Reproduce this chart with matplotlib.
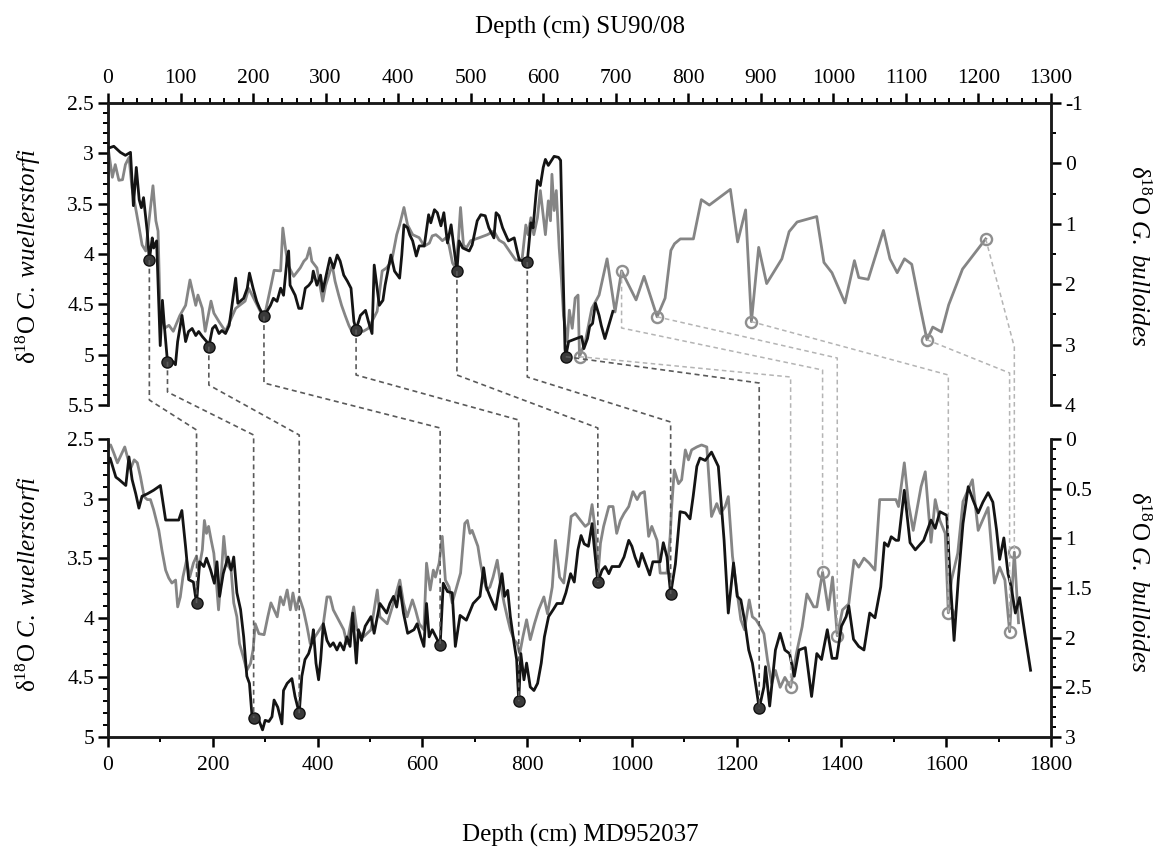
import matplotlib
matplotlib.use('Agg')
import matplotlib.pyplot as plt
from matplotlib.ticker import MultipleLocator, FuncFormatter
from matplotlib.lines import Line2D

plt.rcParams['font.family'] = ['Liberation Serif', 'DejaVu Serif']
plt.rcParams['mathtext.fontset'] = 'custom'
plt.rcParams['mathtext.rm'] = 'Liberation Serif'
plt.rcParams['mathtext.it'] = 'Liberation Serif:italic'
plt.rcParams['axes.unicode_minus'] = False

# ---------------- DATA ----------------
# SU90/08 (top panel) -- C. wuellerstorfi (black, left axis)
su_x_black = [0, 8, 17, 24, 31, 35, 39, 43, 46, 49, 54, 57, 61, 63, 67, 72, 75, 78, 82, 86,
              93, 96, 102, 107, 111, 116, 121, 125, 130, 136, 139, 144, 148, 153, 157, 162, 167, 170, 176, 179,
              187, 192, 195, 200, 205, 209, 215, 224, 228, 233, 238, 242, 247, 249, 251, 258, 263, 267, 272, 277,
              281, 283, 288, 293, 296, 302, 306, 311, 316, 320, 325, 330, 335, 339, 342, 348, 355, 359, 364, 367,
              374, 379, 382, 390, 395, 399, 402, 405, 408, 413, 416, 420, 425, 429, 436, 442, 445, 450, 454, 459,
              463, 468, 473, 481, 484, 489, 498, 502, 509, 514, 520, 525, 532, 535, 539, 544, 552, 560, 564, 567,
              578, 583, 586, 590, 592, 596, 600, 603, 607, 615, 621, 624, 627, 630, 631, 635, 642, 653, 656, 661,
              664, 668, 672, 677, 680, 685, 696]
su_cw = [2.95, 2.93, 2.99, 3.02, 2.99, 3.52, 3.14, 3.46, 3.54, 3.44, 3.77, 4.06, 3.84, 3.94, 3.87, 4.91, 4.46, 4.74, 5.07, 5.04,
         5.10, 4.87, 4.61, 4.87, 4.77, 4.74, 4.81, 4.77, 4.82, 4.87, 4.92, 4.74, 4.71, 4.79, 4.76, 4.79, 4.71, 4.56, 4.24, 4.49,
         4.44, 4.34, 4.19, 4.34, 4.47, 4.54, 4.62, 4.51, 4.44, 4.47, 4.34, 4.41, 4.04, 3.97, 4.31, 4.41, 4.54, 4.54, 4.34, 4.31,
         4.27, 4.17, 4.31, 4.21, 4.37, 4.17, 4.04, 4.14, 4.01, 4.07, 4.21, 4.27, 4.34, 4.67, 4.75, 4.61, 4.56, 4.67, 4.79, 4.11,
         4.51, 4.46, 4.31, 4.01, 4.17, 4.21, 4.24, 4.01, 3.71, 3.74, 3.81, 3.87, 4.02, 3.92, 3.92, 3.61, 3.69, 3.56, 3.59, 3.72,
         3.59, 3.89, 3.71, 4.17, 3.87, 3.94, 3.97, 3.91, 3.67, 3.61, 3.62, 3.74, 3.84, 3.59, 3.62, 3.74, 3.87, 3.84, 3.97, 4.06,
         4.08, 3.69, 3.74, 3.41, 3.27, 3.32, 3.14, 3.06, 3.12, 3.03, 3.04, 3.07, 4.07, 4.94, 5.02, 4.87, 4.85, 4.82, 4.94, 4.84,
         4.72, 4.69, 4.49, 4.61, 4.71, 4.84, 4.57]

# SU90/08 -- G. bulloides (grey, right axis)
su_x_gray = [0, 6, 10, 15, 20, 24, 29, 33, 38, 43, 47, 52, 57, 62, 66, 69, 72, 75, 78, 84,
             90, 99, 107, 113, 121, 124, 130, 134, 142, 146, 153, 162, 176, 189, 194, 215, 226, 229, 238, 241,
             244, 248, 256, 265, 270, 274, 278, 281, 288, 296, 300, 309, 313, 318, 322, 327, 332, 336, 342, 352,
             359, 371, 378, 384, 391, 398, 402, 408, 413, 420, 429, 436, 443, 447, 452, 457, 461, 466, 470, 475,
             479, 483, 486, 490, 494, 500, 512, 523, 532, 539, 546, 555, 562, 567, 571, 576, 579, 583, 587, 592,
             596, 603, 607, 610, 612, 615, 618, 622, 625, 628, 633, 636, 640, 644, 648, 650, 658, 667, 677, 688,
             699, 708, 728, 739, 757, 768, 776, 781, 789, 807, 818, 829, 858, 868, 879, 887, 897, 908, 929, 939,
             950, 977, 987, 998, 1016, 1029, 1035, 1048, 1069, 1078, 1088, 1098, 1108, 1120, 1129, 1137, 1149, 1159, 1178, 1210]
su_gb = [-0.27, 0.23, 0.02, 0.28, 0.27, 0.02, -0.10, 0.40, 0.73, 1.07, 1.35, 1.45, 0.90, 0.37, 0.95, 1.12, 2.52, 2.57, 2.73, 2.68,
         2.78, 2.52, 2.35, 1.93, 2.35, 2.18, 2.40, 2.78, 2.28, 2.48, 2.62, 2.78, 2.40, 2.28, 2.07, 2.57, 1.95, 1.77, 1.78, 1.07,
         1.35, 1.68, 1.87, 1.73, 1.62, 1.57, 1.40, 1.62, 1.73, 2.28, 2.02, 1.68, 1.95, 2.18, 2.35, 2.52, 2.68, 2.78, 2.78, 2.78,
         2.73, 2.45, 1.78, 1.73, 1.62, 1.18, 1.02, 0.73, 1.02, 1.18, 1.23, 1.37, 1.32, 1.20, 1.18, 1.23, 1.28, 1.23, 1.35, 1.65,
         1.73, 1.28, 0.73, 1.35, 1.40, 1.28, 1.23, 1.18, 1.12, 1.27, 1.32, 1.48, 1.60, 1.60, 1.57, 1.02, 1.18, 0.90, 1.18, 0.90,
         0.45, 1.18, 0.62, 0.95, 0.18, 0.78, 0.45, 1.40, 1.90, 2.52, 2.95, 2.43, 2.73, 2.23, 2.18, 3.20, 2.95, 2.40, 2.18, 1.58,
         2.46, 1.78, 2.26, 1.87, 2.54, 2.23, 1.44, 1.33, 1.25, 1.25, 0.60, 0.69, 0.43, 1.30, 0.77, 2.62, 1.39, 1.99, 1.58, 1.13,
         0.97, 0.88, 1.64, 1.81, 2.31, 1.61, 1.89, 1.92, 1.11, 1.58, 1.81, 1.58, 1.67, 2.40, 2.92, 2.71, 2.79, 2.34, 1.75, 1.25]

# MD952037 (bottom panel) -- C. wuellerstorfi (black, left axis)
md_x_black = [0, 4, 15, 21, 34, 40, 46, 53, 59, 65, 75, 87, 100, 110, 135, 141, 148, 154, 163, 169,
              175, 183, 188, 196, 203, 208, 213, 220, 229, 235, 240, 246, 253, 259, 265, 270, 275, 278, 288, 295,
              300, 307, 313, 317, 324, 332, 335, 342, 351, 357, 365, 370, 376, 383, 389, 392, 397, 402, 406, 411,
              418, 424, 430, 437, 443, 450, 456, 462, 467, 474, 478, 484, 491, 502, 508, 519, 532, 538, 545, 551,
              557, 564, 572, 584, 590, 597, 603, 608, 613, 619, 634, 640, 648, 657, 663, 672, 684, 697, 710, 717,
              722, 729, 740, 746, 752, 757, 763, 768, 775, 780, 784, 788, 794, 799, 806, 813, 820, 827, 833, 841,
              850, 857, 867, 874, 883, 890, 897, 903, 909, 917, 924, 928, 935, 943, 949, 956, 962, 976, 985, 994,
              1000, 1006, 1013, 1019, 1034, 1040, 1054, 1060, 1067, 1074, 1083, 1092, 1102, 1111, 1117, 1124, 1130, 1140, 1152, 1165,
              1170, 1176, 1184, 1194, 1201, 1208, 1215, 1223, 1230, 1237, 1243, 1252, 1255, 1263, 1274, 1283, 1292, 1301, 1310, 1319,
              1331, 1343, 1353, 1362, 1373, 1382, 1391, 1400, 1409, 1414, 1423, 1433, 1443, 1454, 1464, 1475, 1482, 1489, 1495, 1504,
              1509, 1520, 1531, 1541, 1557, 1571, 1579, 1588, 1601, 1607, 1615, 1623, 1632, 1642, 1651, 1661, 1670, 1680, 1689, 1696,
              1702, 1710, 1718, 1724, 1732, 1740, 1750, 1761]
md_cw = [2.70, 2.66, 2.82, 2.84, 2.89, 2.65, 2.84, 2.96, 3.08, 2.98, 2.96, 2.93, 2.89, 3.18, 3.18, 3.10, 3.40, 3.68, 3.70, 3.88,
         3.53, 3.57, 3.50, 3.60, 3.71, 3.53, 3.82, 3.63, 3.49, 3.60, 3.49, 3.79, 3.93, 4.16, 4.49, 4.55, 4.83, 4.84, 4.86, 4.94,
         4.86, 4.87, 4.83, 4.69, 4.75, 4.89, 4.61, 4.55, 4.51, 4.66, 4.80, 4.49, 4.35, 4.30, 4.21, 4.10, 4.38, 4.52, 4.35, 4.05,
         4.19, 4.24, 4.21, 4.27, 4.21, 4.27, 4.16, 4.24, 3.96, 4.38, 4.10, 4.19, 4.07, 3.99, 4.13, 3.88, 3.96, 3.88, 3.82, 3.91,
         3.74, 3.96, 4.13, 4.10, 4.05, 4.16, 4.24, 3.88, 4.16, 4.10, 4.23, 3.71, 3.78, 3.79, 4.24, 3.98, 4.02, 3.88, 3.82, 3.58,
         3.74, 3.82, 3.93, 3.77, 3.63, 3.82, 3.77, 3.99, 4.21, 4.35, 4.70, 4.30, 4.52, 4.38, 4.58, 4.61, 4.55, 4.38, 4.16, 3.99,
         3.93, 3.88, 3.88, 3.79, 3.63, 3.70, 3.43, 3.31, 3.38, 3.40, 3.21, 3.40, 3.70, 3.60, 3.57, 3.63, 3.57, 3.57, 3.49, 3.35,
         3.40, 3.49, 3.57, 3.46, 3.64, 3.53, 3.53, 3.37, 3.49, 3.80, 3.55, 3.11, 3.12, 3.17, 2.98, 2.73, 2.66, 2.68, 2.61, 2.73,
         3.01, 3.35, 3.96, 3.54, 3.82, 3.85, 4.02, 4.27, 4.38, 4.58, 4.76, 4.58, 4.41, 4.74, 4.27, 4.13, 4.27, 4.30, 4.49, 4.27,
         4.25, 4.66, 4.30, 4.35, 4.10, 4.34, 4.34, 4.07, 3.99, 3.90, 4.18, 4.24, 4.27, 3.96, 4.00, 3.74, 3.37, 3.40, 3.32, 3.35,
         3.35, 2.93, 3.37, 3.43, 3.35, 3.18, 3.25, 3.11, 3.14, 3.63, 4.19, 3.68, 3.21, 2.90, 3.01, 3.12, 3.03, 2.95, 3.03, 3.26,
         3.51, 3.33, 3.63, 3.74, 3.96, 3.83, 4.13, 4.44]

# MD952037 -- G. bulloides (grey, right axis)
md_x_gray = [0, 5, 11, 18, 32, 37, 43, 50, 56, 62, 69, 75, 81, 87, 97, 103, 110, 116, 122, 129,
             133, 138, 143, 150, 156, 163, 169, 173, 180, 184, 188, 192, 197, 202, 207, 211, 216, 221, 226, 235,
             240, 246, 251, 258, 265, 272, 277, 281, 288, 298, 305, 311, 323, 329, 335, 342, 348, 353, 359, 365,
             373, 380, 386, 399, 411, 418, 424, 430, 437, 450, 456, 469, 475, 488, 502, 514, 519, 533, 545, 557,
             564, 571, 581, 587, 594, 603, 608, 615, 621, 625, 632, 638, 644, 651, 657, 673, 681, 686, 691, 695,
             702, 706, 711, 716, 723, 729, 735, 743, 749, 756, 762, 768, 775, 781, 786, 792, 799, 806, 814, 822,
             832, 839, 848, 854, 862, 870, 876, 884, 892, 902, 911, 918, 924, 930, 935, 940, 946, 956, 964, 971,
             978, 985, 994, 1002, 1010, 1016, 1024, 1032, 1038, 1048, 1054, 1060, 1067, 1073, 1076, 1081, 1089, 1095, 1102, 1108,
             1114, 1124, 1133, 1143, 1152, 1162, 1169, 1178, 1184, 1192, 1202, 1208, 1215, 1224, 1230, 1237, 1245, 1252, 1259, 1267,
             1274, 1283, 1292, 1303, 1314, 1325, 1334, 1347, 1353, 1364, 1375, 1383, 1392, 1402, 1414, 1424, 1433, 1443, 1453, 1464,
             1473, 1482, 1486, 1504, 1509, 1520, 1528, 1537, 1552, 1560, 1571, 1579, 1588, 1598, 1604, 1610, 1622, 1632, 1650, 1661,
             1680, 1692, 1702, 1712, 1721, 1730, 1738]
md_gb = [0.08, 0.06, 0.14, 0.24, 0.08, 0.18, 0.30, 0.21, 0.24, 0.38, 0.58, 0.61, 0.61, 0.71, 0.92, 1.12, 1.32, 1.40, 1.45, 1.42,
         1.69, 1.59, 1.39, 1.22, 1.39, 1.25, 1.18, 1.32, 1.12, 0.82, 0.95, 0.88, 1.02, 1.15, 1.45, 1.72, 1.39, 0.98, 1.25, 1.32,
         1.65, 1.79, 2.06, 2.19, 2.33, 2.26, 2.12, 1.86, 1.96, 1.97, 1.79, 1.65, 1.79, 1.59, 1.67, 1.52, 1.72, 1.55, 1.72, 1.59,
         1.72, 1.89, 2.06, 1.96, 1.86, 1.59, 1.59, 1.72, 1.79, 1.92, 2.06, 1.69, 1.92, 1.99, 1.92, 1.52, 1.79, 1.86, 1.65, 1.42,
         1.65, 1.79, 1.62, 1.72, 1.86, 1.92, 1.25, 1.52, 1.32, 1.39, 1.25, 0.98, 1.42, 1.49, 1.65, 1.35, 0.85, 0.82, 0.95, 0.92,
         1.02, 1.08, 1.25, 1.39, 1.52, 1.49, 1.39, 1.22, 1.45, 1.65, 1.79, 1.92, 2.02, 2.06, 2.16, 1.99, 1.82, 2.02, 1.86, 1.72,
         1.59, 1.76, 1.49, 1.02, 1.39, 1.45, 1.18, 0.78, 0.75, 0.82, 0.88, 0.85, 0.66, 0.92, 1.39, 1.05, 0.88, 0.68, 0.68, 0.95,
         0.82, 0.75, 0.68, 0.53, 0.61, 0.55, 0.53, 0.98, 0.88, 1.02, 1.35, 1.35, 1.35, 0.98, 0.68, 0.31, 0.45, 0.41, 0.11, 0.21,
         0.11, 0.08, 0.06, 0.08, 0.78, 0.65, 0.75, 0.68, 0.58, 1.18, 1.59, 1.82, 1.92, 1.62, 1.79, 1.82, 1.89, 1.96, 2.23, 2.46,
         2.33, 2.50, 2.40, 2.50, 2.16, 1.89, 1.56, 1.69, 1.69, 1.34, 1.72, 1.39, 1.98, 1.72, 1.66, 1.22, 1.29, 1.20, 1.25, 1.32,
         0.61, 0.61, 0.61, 0.61, 0.68, 0.24, 0.65, 0.92, 0.48, 0.33, 1.04, 0.61, 0.82, 0.95, 1.75, 1.42, 1.15, 0.63, 0.41, 0.92,
         0.69, 1.45, 1.29, 1.42, 1.94, 1.14, 1.85]

# tie points
su_tie_black_x = [57, 82, 139, 215, 342, 481, 578, 631]
su_tie_black_y = [4.06, 5.07, 4.92, 4.62, 4.75, 4.17, 4.08, 5.02]
md_tie_black_x = [169, 278, 365, 634, 784, 935, 1074, 1243]
md_tie_black_y = [3.88, 4.84, 4.80, 4.23, 4.70, 3.70, 3.80, 4.76]
su_tie_gray_x = [650, 708, 757, 887, 1129, 1210]
su_tie_gray_y = [3.20, 1.78, 2.54, 2.62, 2.92, 1.25]
md_tie_gray_x = [1303, 1364, 1392, 1604, 1721, 1730]
md_tie_gray_y = [2.50, 1.34, 1.98, 1.75, 1.94, 1.14]

# ---------------- FIGURE ----------------
W, H = 1162, 849
fig = plt.figure(figsize=(W / 100, H / 100), dpi=100)


def box(l, t, r, b):
    return [l / W, 1 - b / H, (r - l) / W, (b - t) / H]


ax_t = fig.add_axes(box(108, 103, 1051, 405))
ax_tr = ax_t.twinx()
ax_b = fig.add_axes(box(108, 439, 1051, 737))
ax_br = ax_b.twinx()
for a_main, a_twin in ((ax_t, ax_tr), (ax_b, ax_br)):
    a_main.set_zorder(a_twin.get_zorder() + 1)
    a_main.patch.set_visible(False)

BLACK = '#141414'
GREY = '#858585'

# lines
ax_t.plot(su_x_black, su_cw, color=BLACK, lw=2.0, zorder=3)
ax_tr.plot(su_x_gray, su_gb, color=GREY, lw=2.0, zorder=2)
ax_b.plot(md_x_black, md_cw, color=BLACK, lw=2.0, zorder=3)
ax_br.plot(md_x_gray, md_gb, color=GREY, lw=2.0, zorder=2)

# tie markers
mk_b = dict(ls='none', marker='o', ms=8, mfc='#3a3a3a', mec='#111111', mew=1.0, zorder=5)
mk_g = dict(ls='none', marker='o', ms=8, mfc='none', mec='#8f8f8f', mew=1.7, zorder=5)
ax_t.plot(su_tie_black_x, su_tie_black_y, **mk_b)
ax_b.plot(md_tie_black_x, md_tie_black_y, **mk_b)
ax_tr.plot(su_tie_gray_x, su_tie_gray_y, **mk_g)
ax_br.plot(md_tie_gray_x, md_tie_gray_y, **mk_g)

# limits
ax_t.set_xlim(0, 1300)
ax_t.set_ylim(5.5, 2.5)
ax_tr.set_ylim(4, -1)
ax_b.set_xlim(0, 1800)
ax_b.set_ylim(5, 2.5)
ax_br.set_ylim(3, 0)

fmt = FuncFormatter(lambda v, p: f'{v:g}')
TICK_FS = 15.5

# top panel axes
ax_t.xaxis.tick_top()
ax_t.xaxis.set_major_locator(MultipleLocator(100))
ax_t.xaxis.set_minor_locator(MultipleLocator(20))
ax_t.yaxis.set_major_locator(MultipleLocator(0.5))
ax_t.yaxis.set_minor_locator(MultipleLocator(0.1))
ax_t.yaxis.set_major_formatter(fmt)
ax_tr.yaxis.set_major_locator(MultipleLocator(1))
ax_tr.yaxis.set_minor_locator(MultipleLocator(0.5))
ax_tr.yaxis.set_major_formatter(fmt)
ax_t.tick_params(axis='x', which='both', top=True, bottom=False, labeltop=True,
                 labelbottom=False, direction='out')
ax_t.tick_params(axis='y', which='both', left=True, right=False, direction='out')
ax_tr.tick_params(axis='y', which='both', right=True, left=False, direction='out')
ax_tr.tick_params(axis='x', which='both', top=False, bottom=False, labelbottom=False)
for a in (ax_t, ax_tr):
    a.spines['bottom'].set_visible(False)

# bottom panel axes
ax_b.xaxis.set_major_locator(MultipleLocator(200))
ax_b.xaxis.set_minor_locator(MultipleLocator(100))
ax_b.yaxis.set_major_locator(MultipleLocator(0.5))
ax_b.yaxis.set_minor_locator(MultipleLocator(0.1))
ax_b.yaxis.set_major_formatter(fmt)
ax_br.yaxis.set_major_locator(MultipleLocator(0.5))
ax_br.yaxis.set_minor_locator(MultipleLocator(0.1))
ax_br.yaxis.set_major_formatter(fmt)
ax_b.tick_params(axis='x', which='both', top=False, bottom=True, direction='out')
ax_b.tick_params(axis='y', which='both', left=True, right=False, direction='out')
ax_br.tick_params(axis='y', which='both', right=True, left=False, direction='out')
for a in (ax_b, ax_br):
    a.spines['top'].set_visible(False)

for a in (ax_t, ax_tr, ax_b, ax_br):
    a.tick_params(which='major', length=7, width=1.8, labelsize=TICK_FS, pad=3)
    a.tick_params(which='minor', length=3.5, width=1.4)
    for s in a.spines.values():
        s.set_linewidth(1.8)
        s.set_color('#1a1a1a')
ax_b.tick_params(axis='x', which='major', pad=7)
ax_t.tick_params(axis='x', which='major', pad=4)

# axis titles
LAB_FS = 18
fig.text(580 / W, 1 - 27 / H, 'Depth (cm) SU90/08', ha='center', va='center', fontsize=LAB_FS)
fig.text(580 / W, 1 - 835 / H, 'Depth (cm) MD952037', ha='center', va='center', fontsize=LAB_FS)
lab_cw = r'δ$^{\mathrm{18}}$O $\mathit{C.\ wuellerstorfi}$'
lab_gb = r'δ$^{\mathrm{18}}$O $\mathit{G.\ bulloides}$'
fig.text(28 / W, 1 - 256 / H, lab_cw, ha='center', va='center', rotation=90, fontsize=LAB_FS)
fig.text(28 / W, 1 - 584 / H, lab_cw, ha='center', va='center', rotation=90, fontsize=LAB_FS)
fig.text(1138 / W, 1 - 256 / H, lab_gb, ha='center', va='center', rotation=270, fontsize=LAB_FS)
fig.text(1138 / W, 1 - 582 / H, lab_gb, ha='center', va='center', rotation=270, fontsize=LAB_FS)

# ---------------- tie connectors ----------------
inv = fig.transFigure.inverted()


def connector(ax_top, tx, ty, ax_bot, bx, by, top_break, bot_break, color, lw, dashes):
    p0 = ax_top.transData.transform((tx, ty))
    p3 = ax_bot.transData.transform((bx, by))
    pts = [p0]
    if top_break is not None:
        pts.append((p0[0], H - top_break))
    pts.append((p3[0], H - bot_break))
    pts.append(p3)
    fpts = inv.transform(pts)
    ln = Line2D(fpts[:, 0], fpts[:, 1], transform=fig.transFigure, color=color,
                lw=lw, dashes=dashes, zorder=1.5)
    fig.add_artist(ln)


black_top_breaks = [400, 392, 385, 383, 375, 375, 377, None]
black_bot_breaks = [430, 435, 435, 428, 420, 428, 422, 383]
for i in range(len(su_tie_black_x)):
    connector(ax_t, su_tie_black_x[i], su_tie_black_y[i], ax_b, md_tie_black_x[i], md_tie_black_y[i],
              black_top_breaks[i], black_bot_breaks[i], '#5a5a5a', 1.2, (3, 2.2))

gray_top_breaks = [None, 328, None, None, None, None]
gray_bot_breaks = [377, 370, 358, 375, 373, 347]
for i in range(len(su_tie_gray_x)):
    connector(ax_tr, su_tie_gray_x[i], su_tie_gray_y[i], ax_br, md_tie_gray_x[i], md_tie_gray_y[i],
              gray_top_breaks[i], gray_bot_breaks[i], '#b4b4b4', 1.1, (3, 2.2))

fig.savefig('out.png', dpi=100)
